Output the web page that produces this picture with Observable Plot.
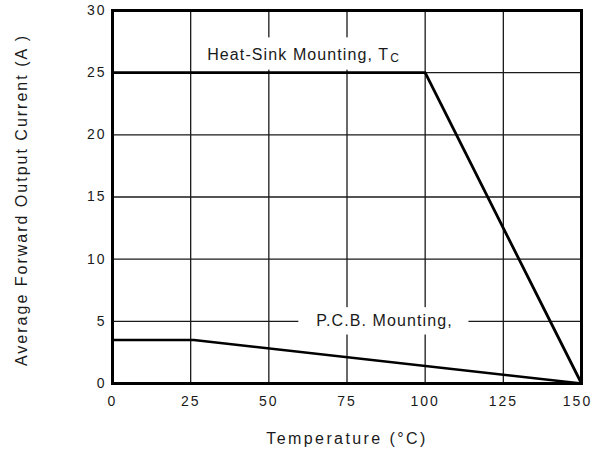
<!DOCTYPE html>
<html><head><meta charset="utf-8">
<script src="https://cdn.jsdelivr.net/npm/d3@7"></script>
<script src="https://cdn.jsdelivr.net/npm/@observablehq/plot@0.6"></script>
<style>
body{margin:0;background:#fff}
#chart svg{font-family:"Liberation Sans",Arial,sans-serif;background:#fff}
</style>
</head><body><div id="chart"></div>
<script>
const xTicks = [0, 25, 50, 75, 100, 125, 150];
const yTicks = [0, 5, 10, 15, 20, 25, 30];
const heatTemp = [0, 100, 150];
const heatCurrent = [25, 25, 0];
const pcbTemp = [0, 26, 150];
const pcbCurrent = [3.5, 3.5, 0];
const labelTexts = ["Heat-Sink Mounting, T", "C", "P.C.B. Mounting,"];
const labelX = [88.5, 88.5, 87];
const labelY = [26.45, 26.45, 5];
// white gaps behind labels (data units)
const gapX1 = [28, 59.6];
const gapX2 = [94, 114];
const gapY1 = [25.2, 3.9];
const gapY2 = [27.8, 6.1];
const xTitle = "Temperature (°C)";
const yTitle = "Average Forward Output Current (A )";

const heat = heatTemp.map((t, i) => ({t, a: heatCurrent[i]}));
const pcb = pcbTemp.map((t, i) => ({t, a: pcbCurrent[i]}));
const gaps = gapX1.map((x1, i) => ({x1, x2: gapX2[i], y1: gapY1[i], y2: gapY2[i]}));

const chart = Plot.plot({
  width: 592, height: 456,
  marginLeft: 112, marginRight: 11, marginTop: 10, marginBottom: 73,
  x: {domain: [0, 150]},
  y: {domain: [0, 30]},
  style: {fontFamily: "'Liberation Sans', Arial, sans-serif", background: "#fff", color: "#1a1a1a"},
  marks: [
    Plot.ruleX(xTicks, {stroke: "#1a1a1a", strokeWidth: 1.3}),
    Plot.ruleY(yTicks, {stroke: "#1a1a1a", strokeWidth: 1.3}),
    Plot.rect(gaps, {x1: "x1", x2: "x2", y1: "y1", y2: "y2", fill: "white"}),
    Plot.line(heat, {x: "t", y: "a", stroke: "black", strokeWidth: 2.8}),
    Plot.line(pcb, {x: "t", y: "a", stroke: "black", strokeWidth: 2.6}),
    Plot.frame({stroke: "black", strokeWidth: 3}),
    Plot.axisX(xTicks, {tickSize: 0, tickPadding: 13, fontSize: 14, label: null}),
    Plot.axisY(yTicks, {tickSize: 0, tickPadding: 6, fontSize: 14, label: null}),
    Plot.text([labelTexts[0]], {x: labelX[0], y: labelY[0], text: d => d, textAnchor: "end", fontSize: 16, fill: "#1a1a1a"}),
    Plot.text([labelTexts[1]], {x: labelX[1], y: labelY[1], text: d => d, textAnchor: "start", fontSize: 12, dy: 4, dx: 1, fill: "#1a1a1a"}),
    Plot.text([labelTexts[2]], {x: labelX[2], y: labelY[2], text: d => d, fontSize: 16, fill: "#1a1a1a"}),
    Plot.text([xTitle], {frameAnchor: "bottom", dy: 60, text: d => d, fontSize: 16, fill: "#1a1a1a"}),
    Plot.text([yTitle], {frameAnchor: "left", dx: -91, dy: 3, rotate: -90, textAnchor: "middle", text: d => d, fontSize: 16, fill: "#1a1a1a"})
  ]
});
document.getElementById("chart").append(chart);
d3.select(chart).selectAll("text").each(function() {
  const t = this.textContent;
  let ls = "2px";
  if (labelTexts.includes(t)) ls = "1.1px";
  if (t === xTitle) ls = "2.4px";
  this.style.letterSpacing = ls;
});
// keep the last x tick label inside the picture, as in the reference
d3.select(chart).selectAll('g[aria-label="x-axis tick label"] text')
  .filter(function() { return this.textContent === "150"; })
  .attr("dx", -4);
</script>
</body></html>
